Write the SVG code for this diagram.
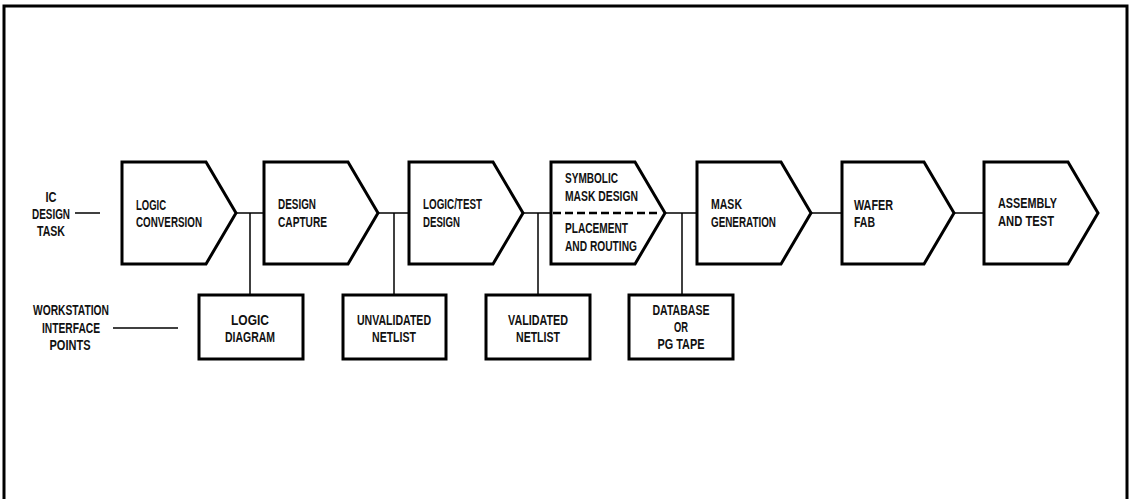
<svg xmlns="http://www.w3.org/2000/svg" width="1131" height="499" viewBox="0 0 1131 499">
<style>
.shape{fill:#fff;stroke:#000;stroke-width:3;stroke-linejoin:miter}
.conn{fill:none;stroke:#000;stroke-width:1.5}
.frame{fill:none;stroke:#000;stroke-width:3}
text{font-family:"Liberation Sans",Arial,sans-serif;font-weight:bold;font-size:14.5px;fill:#111}
.c{text-anchor:middle}
</style>
<rect width="1131" height="499" fill="#fff"/>
<path class="frame" d="M4,499 V6 H1127 V499"/>
<g id="labels">
<text class="c" x="51" y="202" textLength="11" lengthAdjust="spacingAndGlyphs">IC</text>
<text class="c" x="51" y="219" textLength="38" lengthAdjust="spacingAndGlyphs">DESIGN</text>
<text class="c" x="51" y="236" textLength="28" lengthAdjust="spacingAndGlyphs">TASK</text>
<text class="c" x="71" y="315" textLength="76" lengthAdjust="spacingAndGlyphs">WORKSTATION</text>
<text class="c" x="71" y="333" textLength="58" lengthAdjust="spacingAndGlyphs">INTERFACE</text>
<text class="c" x="70" y="350" textLength="41" lengthAdjust="spacingAndGlyphs">POINTS</text>
</g>
<g id="connectors">
<line class="conn" x1="75" y1="213" x2="100" y2="213"/>
<line class="conn" x1="113" y1="328" x2="178" y2="328"/>
<line class="conn" x1="235" y1="213" x2="264" y2="213"/>
<line class="conn" x1="378" y1="213" x2="409" y2="213"/>
<line class="conn" x1="523" y1="213" x2="551" y2="213"/>
<line class="conn" x1="666" y1="213" x2="697" y2="213"/>
<line class="conn" x1="810" y1="213" x2="842" y2="213"/>
<line class="conn" x1="953" y1="213" x2="984" y2="213"/>
<line class="conn" x1="250" y1="213" x2="250" y2="295"/>
<line class="conn" x1="394" y1="213" x2="394" y2="295"/>
<line class="conn" x1="538" y1="213" x2="538" y2="295"/>
<line class="conn" x1="682" y1="213" x2="682" y2="295"/>
</g>
<g id="logic-conversion">
<path class="shape" d="M122,162 H206 L236,213 L206,264 H122 Z"/>
<text x="136" y="210" textLength="30" lengthAdjust="spacingAndGlyphs">LOGIC</text>
<text x="136" y="227" textLength="66" lengthAdjust="spacingAndGlyphs">CONVERSION</text>
</g>
<g id="design-capture">
<path class="shape" d="M264,162 H348 L378,213 L348,264 H264 Z"/>
<text x="278" y="209" textLength="38" lengthAdjust="spacingAndGlyphs">DESIGN</text>
<text x="278" y="227" textLength="49" lengthAdjust="spacingAndGlyphs">CAPTURE</text>
</g>
<g id="logic-test-design">
<path class="shape" d="M409,162 H493 L523,213 L493,264 H409 Z"/>
<text x="423" y="209" textLength="59" lengthAdjust="spacingAndGlyphs">LOGIC/TEST</text>
<text x="423" y="227" textLength="37" lengthAdjust="spacingAndGlyphs">DESIGN</text>
</g>
<g id="symbolic-mask-design">
<path class="shape" d="M551,162 H635 L665,213 L635,264 H551 Z"/>
<line x1="553" y1="213" x2="660" y2="213" stroke="#000" stroke-width="2.5" stroke-dasharray="8,4"/>
<text x="565" y="183" textLength="53" lengthAdjust="spacingAndGlyphs">SYMBOLIC</text>
<text x="565" y="201" textLength="73" lengthAdjust="spacingAndGlyphs">MASK DESIGN</text>
<text x="565" y="233" textLength="63" lengthAdjust="spacingAndGlyphs">PLACEMENT</text>
<text x="565" y="251" textLength="72" lengthAdjust="spacingAndGlyphs">AND ROUTING</text>
</g>
<g id="mask-generation">
<path class="shape" d="M697,162 H781 L811,213 L781,264 H697 Z"/>
<text x="711" y="209" textLength="31" lengthAdjust="spacingAndGlyphs">MASK</text>
<text x="711" y="227" textLength="65" lengthAdjust="spacingAndGlyphs">GENERATION</text>
</g>
<g id="wafer-fab">
<path class="shape" d="M842,162 H924 L954,213 L924,264 H842 Z"/>
<text x="854" y="210" textLength="39" lengthAdjust="spacingAndGlyphs">WAFER</text>
<text x="854" y="227" textLength="21" lengthAdjust="spacingAndGlyphs">FAB</text>
</g>
<g id="assembly-test">
<path class="shape" d="M984,162 H1068 L1098,213 L1068,264 H984 Z"/>
<text x="998" y="208" textLength="59" lengthAdjust="spacingAndGlyphs">ASSEMBLY</text>
<text x="998" y="226" textLength="56" lengthAdjust="spacingAndGlyphs">AND TEST</text>
</g>
<g id="logic-diagram">
<rect class="shape" x="199" y="295" width="104" height="64"/>
<text class="c" x="250" y="325" textLength="38" lengthAdjust="spacingAndGlyphs">LOGIC</text>
<text class="c" x="250" y="342" textLength="50" lengthAdjust="spacingAndGlyphs">DIAGRAM</text>
</g>
<g id="unvalidated-netlist">
<rect class="shape" x="343" y="295" width="103" height="64"/>
<text class="c" x="394" y="325" textLength="74" lengthAdjust="spacingAndGlyphs">UNVALIDATED</text>
<text class="c" x="394" y="342" textLength="44" lengthAdjust="spacingAndGlyphs">NETLIST</text>
</g>
<g id="validated-netlist">
<rect class="shape" x="486" y="295" width="104" height="64"/>
<text class="c" x="538" y="325" textLength="60" lengthAdjust="spacingAndGlyphs">VALIDATED</text>
<text class="c" x="538" y="342" textLength="44" lengthAdjust="spacingAndGlyphs">NETLIST</text>
</g>
<g id="database-pg-tape">
<rect class="shape" x="629" y="295" width="104" height="64"/>
<text class="c" x="681" y="315" textLength="57" lengthAdjust="spacingAndGlyphs">DATABASE</text>
<text class="c" x="681" y="332" textLength="14" lengthAdjust="spacingAndGlyphs">OR</text>
<text class="c" x="681" y="349" textLength="47" lengthAdjust="spacingAndGlyphs">PG TAPE</text>
</g>
</svg>
